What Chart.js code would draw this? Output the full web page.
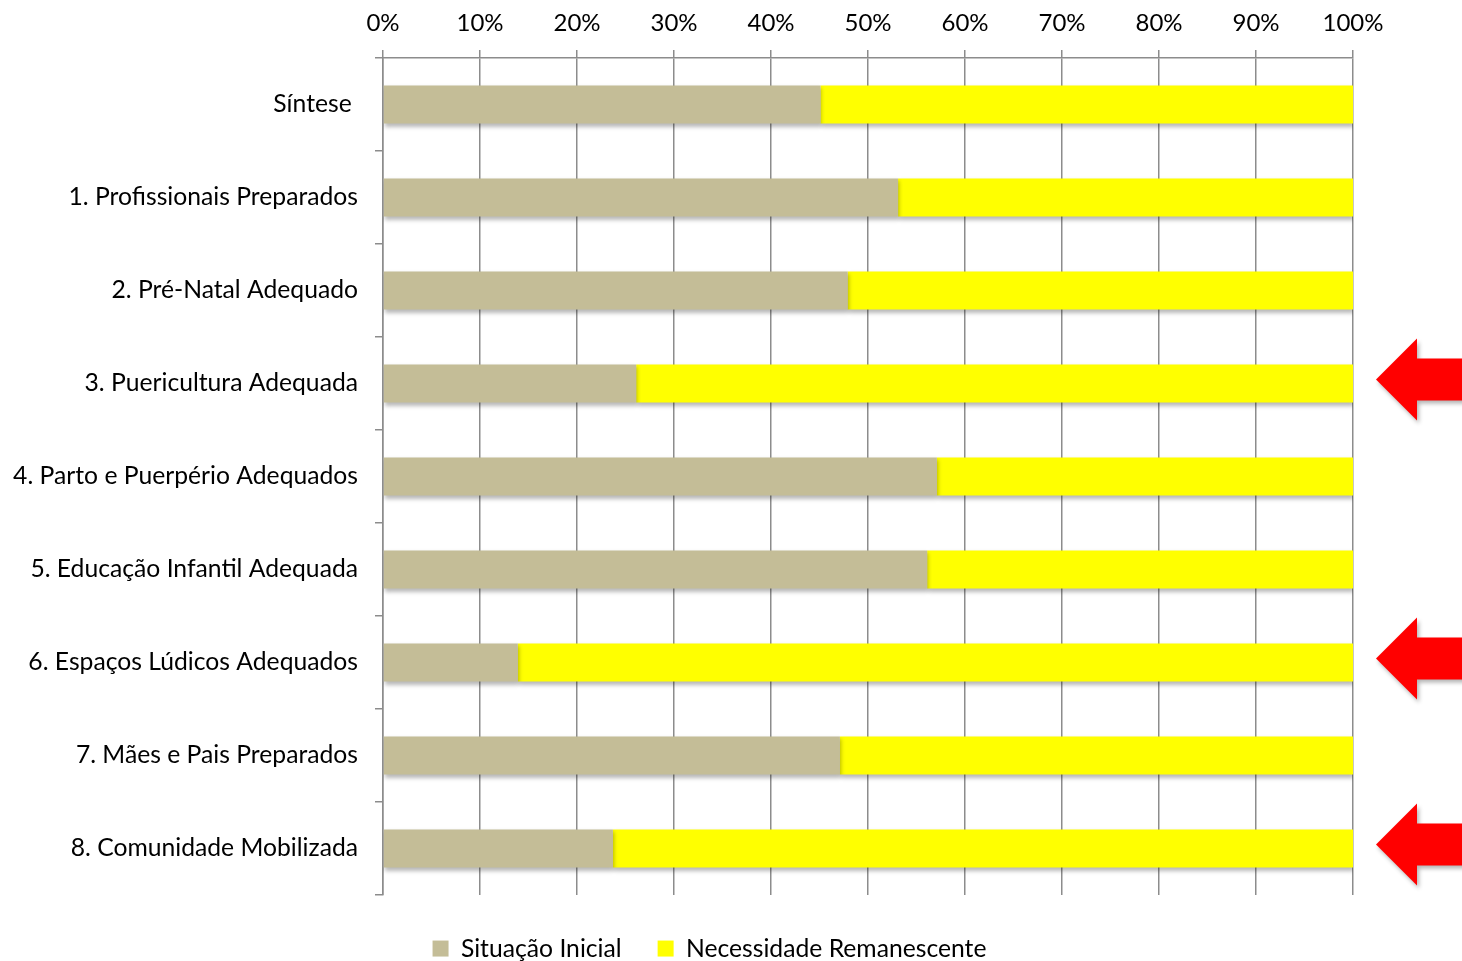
<!DOCTYPE html>
<html>
<head>
<meta charset="utf-8">
<script src="https://cdn.jsdelivr.net/npm/chart.js@4.4.0/dist/chart.umd.min.js"></script>
<style>
  html, body { margin: 0; padding: 0; background: #ffffff; }
  #wrap { width: 1462px; height: 961px; position: relative; }
</style>
</head>
<body>
<div id="wrap"><canvas id="c" width="1462" height="961"></canvas></div>
<script>
const categories = [
  'Síntese ',
  '1. Profissionais Preparados',
  '2. Pré-Natal Adequado',
  '3. Puericultura Adequada',
  '4. Parto e Puerpério Adequados',
  '5. Educação Infantil Adequada',
  '6. Espaços Lúdicos Adequados',
  '7. Mães e Pais Preparados',
  '8. Comunidade Mobilizada'
];
const situacaoInicial = [45.1, 53.1, 47.9, 26.1, 57.1, 56.1, 13.9, 47.1, 23.7];
const necessidadeRemanescente = [54.9, 46.9, 52.1, 73.9, 42.9, 43.9, 86.1, 52.9, 76.3];
const xTickValues = [0, 10, 20, 30, 40, 50, 60, 70, 80, 90, 100];
const highlightedCategories = ['3. Puericultura Adequada', '6. Espaços Lúdicos Adequados', '8. Comunidade Mobilizada'];

const FONT = 'Lato, "Open Sans", sans-serif';
const GRID = '#8c8c8c';

const barShadow = {
  id: 'barShadow',
  beforeDatasetsDraw(chart) {
    const ctx = chart.ctx;
    ctx.save();
    ctx.shadowColor = 'rgba(0,0,0,0.28)';
    ctx.shadowBlur = 4;
    ctx.shadowOffsetX = 1;
    ctx.shadowOffsetY = 3;
  },
  afterDatasetsDraw(chart) {
    chart.ctx.restore();
  }
};

const legendShift = {
  id: 'legendShift',
  afterLayout(chart) {
    const lg = chart.legend;
    if (lg) { lg.left += 33; lg.right += 33; }
  }
};

const arrows = {
  id: 'arrows',
  afterDraw(chart) {
    const ctx = chart.ctx;
    const y = chart.scales.y;
    const right = chart.chartArea.right;
    ctx.save();
    ctx.fillStyle = '#ff0000';
    ctx.shadowColor = 'rgba(0,0,0,0.3)';
    ctx.shadowBlur = 4;
    ctx.shadowOffsetX = 2;
    ctx.shadowOffsetY = 3;
    highlightedCategories.forEach(cat => {
      const idx = categories.indexOf(cat);
      const cy = y.getPixelForValue(idx) - 4;
      const tip = right + 23;
      const base = right + 64;
      const end = chart.width + 5;
      ctx.beginPath();
      ctx.moveTo(tip, cy);
      ctx.lineTo(base, cy - 41);
      ctx.lineTo(base, cy - 21);
      ctx.lineTo(end, cy - 21);
      ctx.lineTo(end, cy + 21);
      ctx.lineTo(base, cy + 21);
      ctx.lineTo(base, cy + 41);
      ctx.closePath();
      ctx.fill();
    });
    ctx.restore();
  }
};

new Chart(document.getElementById('c'), {
  type: 'bar',
  data: {
    labels: categories,
    datasets: [
      { label: 'Situação Inicial', data: situacaoInicial, backgroundColor: '#c4bd97', barPercentage: 0.41, categoryPercentage: 1.0 },
      { label: 'Necessidade Remanescente', data: necessidadeRemanescente, backgroundColor: '#ffff00', barPercentage: 0.41, categoryPercentage: 1.0 }
    ]
  },
  options: {
    indexAxis: 'y',
    responsive: false,
    animation: false,
    layout: { padding: { left: 0, right: 109, top: 0, bottom: 0 } },
    scales: {
      x: {
        position: 'top',
        stacked: true,
        min: 0,
        max: 100,
        afterBuildTicks(scale) { scale.ticks = xTickValues.map(v => ({ value: v })); },
        afterFit(scale) { scale.height = 58; },
        ticks: { callback: v => v + '%', color: '#000', font: { family: FONT, size: 24 }, padding: 12, maxRotation: 0 },
        grid: { color: GRID, lineWidth: 1.5, tickLength: 8, drawTicks: true },
        border: { color: GRID, width: 1.5 }
      },
      y: {
        stacked: true,
        afterFit(scale) { scale.width = 383; },
        ticks: { color: '#000', font: { family: FONT, size: 24.7 }, padding: 17 },
        grid: { drawOnChartArea: false, drawTicks: true, tickLength: 8, color: GRID, lineWidth: 1.5 },
        border: { color: GRID, width: 1.5 }
      }
    },
    plugins: {
      tooltip: { enabled: false },
      legend: {
        position: 'bottom',
        maxHeight: 66,
        title: { display: true, text: '', font: { size: 1 }, padding: { top: 4, bottom: 0 } },
        labels: { color: '#000', font: { family: FONT, size: 24.7 }, boxWidth: 16, boxHeight: 16, padding: 36 }
      }
    }
  },
  plugins: [barShadow, legendShift, arrows]
});
</script>
</body>
</html>
